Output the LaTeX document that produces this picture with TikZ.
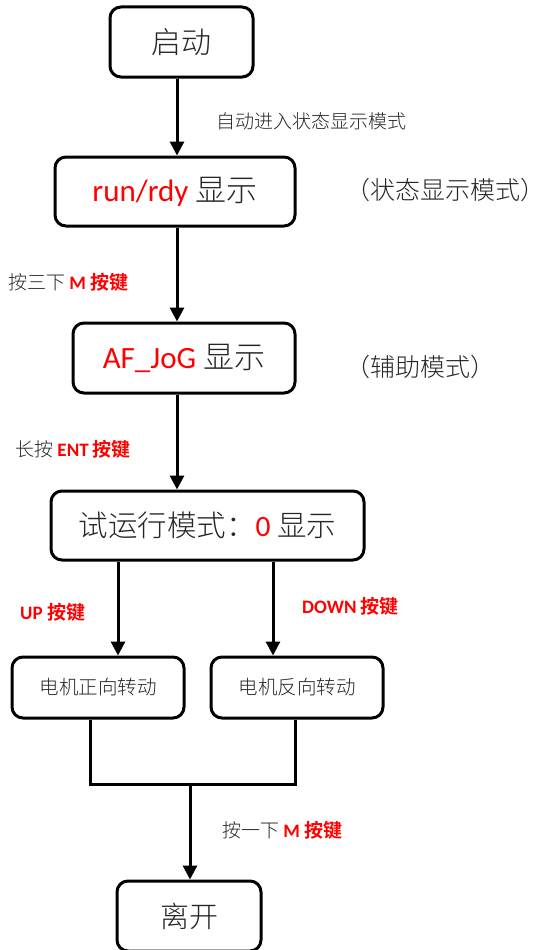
\documentclass[tikz,border=0pt]{standalone}
\usepackage{fontspec}
\setmainfont{Carlito}
\newfontfamily\cjk{Noto Sans CJK SC}[UprightFont={* Light}, BoldFont={* Bold}]
\usetikzlibrary{arrows.meta}
\definecolor{txt}{HTML}{262626}
\definecolor{kred}{HTML}{FF0000}
\tikzset{
  box/.style={draw=black, line width=3pt, rounded corners=11pt, inner sep=0pt, text=txt},
  arr/.style={line width=3pt, -{Triangle[width=14pt,length=14pt]}},
  ln/.style={line width=3pt},
  lbl/.style={anchor=west, inner sep=0pt, text=txt},
}
\newcommand{\fs}[1]{\fontsize{#1}{#1}\selectfont}
\begin{document}
\begin{tikzpicture}[x=1pt,y=-1pt]
\useasboundingbox (0,0) rectangle (546,950);
% boxes
\node[box, minimum width=143pt, minimum height=70pt] (start) at (181.5,42) {\fs{30}\cjk 启动};
\node[box, minimum width=240pt, minimum height=69pt] (run) at (175,191.5) {\fs{31}\textcolor{kred}{run/rdy} {\cjk 显示}};
\node[box, minimum width=222pt, minimum height=70pt] (af) at (184,358) {\fs{31}\textcolor{kred}{AF\_JoG} {\cjk 显示}};
\node[box, minimum width=313pt, minimum height=69pt] (trial) at (207.5,525.5) {\fs{29.5}{\cjk 试运行模式：}\textcolor{kred}{0} {\cjk 显示}};
\node[box, minimum width=172pt, minimum height=61pt] (fwd) at (98,687.5) {\fs{19.5}\cjk 电机正向转动};
\node[box, minimum width=172pt, minimum height=61pt] (rev) at (297,687.5) {\fs{19.5}\cjk 电机反向转动};
\node[box, minimum width=144pt, minimum height=70pt] (exit) at (189,916) {\fs{29}\cjk 离开};
% helper coordinates
\coordinate (xa) at (177,0);
\coordinate (xu) at (118,0);
\coordinate (xd) at (273,0);
\coordinate (xl) at (90,0);
\coordinate (xr) at (295,0);
\coordinate (jl) at (90,784);
\coordinate (jr) at (295,784);
\coordinate (jm) at (190,784);
% connectors
\draw[arr] (start.south -| xa) -- (run.north -| xa);
\draw[arr] (run.south -| xa) -- (af.north -| xa);
\draw[arr] (af.south -| xa) -- (trial.north -| xa);
\draw[arr] (trial.south -| xu) -- (fwd.north -| xu);
\draw[arr] (trial.south -| xd) -- (rev.north -| xd);
\draw[ln] (fwd.south -| xl) -- (jl) -- (jr) -- (rev.south -| xr);
\draw[arr] (jm) -- (exit.north -| jm);
% labels
\node[lbl] (l1) at (216,121) {\fs{19}\cjk 自动进入状态显示模式};
\node[lbl] (l2) at (345,190) {\fs{25}\cjk （状态显示模式）};
\node[lbl] (l3) at (8,282) {\fs{19}{\cjk 按三下} \textcolor{kred}{\bfseries M {\cjk 按键}}};
\node[lbl] (l4) at (345,367) {\fs{25}\cjk （辅助模式）};
\node[lbl] (l5) at (15,449) {\fs{19}{\cjk 长按} \textcolor{kred}{\bfseries ENT {\cjk 按键}}};
\node[lbl] (l6) at (20,612) {\fs{19}\textcolor{kred}{\bfseries UP {\cjk 按键}}};
\node[lbl] (l7) at (302,606) {\fs{19}\textcolor{kred}{\bfseries DOWN {\cjk 按键}}};
\node[lbl] (l8) at (222,830) {\fs{19}{\cjk 按一下} \textcolor{kred}{\bfseries M {\cjk 按键}}};
\end{tikzpicture}
\end{document}
